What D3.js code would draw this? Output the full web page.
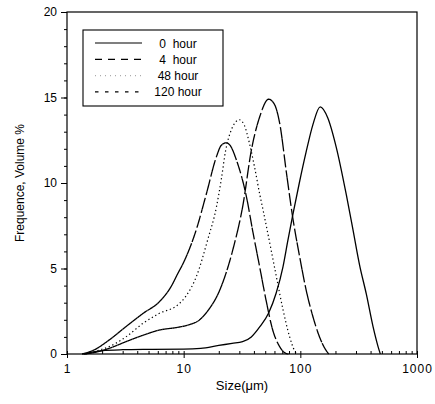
<!DOCTYPE html>
<html>
<head>
<meta charset="utf-8">
<script src="https://cdn.jsdelivr.net/npm/d3@7"></script>
<style>
  body { margin: 0; background: #fff; }
  svg text { font-family: Arial, "Liberation Sans", sans-serif; fill: #000; }
</style>
</head>
<body>
<div id="chart"></div>
<script>
// size (um), volume frequency (%)
const hour0 = [[1.4,0],[1.7,0.13],[2,0.2],[3,0.25],[5,0.27],[10,0.28],[14,0.33],[20,0.5],[26,0.62],[32,0.72],[38,1.0],[45,1.6],[53.5,2.4],[62,3.55],[71,5.1],[78,6.6],[86,8.1],[98,10.0],[112,11.8],[128,13.4],[148,14.45],[172,13.8],[203,12.1],[248,9.3],[282,7.3],[322,5.2],[368,3.5],[420,1.6],[463,0.45],[485,0]];
const hour4 = [[1.35,0],[1.6,0.05],[2.3,0.33],[3.2,0.72],[4.5,1.1],[6.2,1.4],[8.9,1.56],[11,1.7],[13.7,2.0],[16,2.5],[20.4,3.74],[26.4,6.1],[32.2,8.7],[38,11.9],[45,13.9],[53.5,14.9],[60,14.6],[66.5,13.5],[76,10.6],[86,8.0],[98.6,5.7],[112.5,3.7],[128,2.2],[146,1.0],[160,0.4],[175,0]];
const hour48 = [[1.45,0],[1.9,0.23],[2.3,0.43],[3.2,1.0],[4.5,1.8],[6.2,2.38],[8.9,2.87],[10.5,3.4],[12.8,4.5],[16.1,6.7],[19.1,8.6],[21,10.2],[22.9,11.9],[25.6,13.1],[30,13.7],[33,13.4],[36.7,12.3],[40.6,10.9],[45,9.3],[48,8.4],[55,6.4],[62,4.6],[71,2.6],[81,1.0],[90,0.15],[94,0]];
const hour120 = [[1.35,0],[1.7,0.23],[2.3,0.82],[3.2,1.6],[4.5,2.38],[6.2,3.06],[7.8,3.94],[8.9,4.7],[9.9,5.3],[12.8,7.25],[15.7,9.4],[19.1,11.54],[21,12.2],[23.2,12.35],[25,12.2],[28.3,11.35],[34.5,9.2],[39.3,7.1],[44.8,5.1],[51,3.1],[58,1.4],[66.5,0.43],[72,0.12],[79,0]];

const seriesNames = ["0  hour", "4  hour", "48 hour", "120 hour"];
const xMajorTicks = [1, 10, 100, 1000];
const yMajorTicks = [0, 5, 10, 15, 20];

const width = 435, height = 404;
const margin = { left: 67, right: 417, top: 12, bottom: 354 };

const svg = d3.select("#chart").append("svg")
    .attr("width", width)
    .attr("height", height);

const x = d3.scaleLog().domain([1, 1000]).range([margin.left, margin.right]);
const y = d3.scaleLinear().domain([0, 20]).range([margin.bottom, margin.top]);

// minor x ticks (inside)
const xMinor = [];
xMajorTicks.slice(0, 3).forEach(d => { for (let k = 1; k < 10; k++) xMinor.push(d * k); });
xMinor.push(1000);

svg.append("g")
    .attr("transform", `translate(0,${margin.bottom})`)
    .call(d3.axisTop(x).tickValues(xMinor).tickSize(3).tickFormat(""))
    .call(g => g.select(".domain").remove());

svg.append("g")
    .attr("transform", `translate(0,${margin.bottom})`)
    .call(d3.axisBottom(x).tickValues(xMajorTicks).tickSize(4).tickPadding(6).tickFormat(d3.format("d")))
    .call(g => g.select(".domain").remove())
    .call(g => g.selectAll("text").style("font-size", "12px").style("letter-spacing", "1px"));

// y ticks (outside)
svg.append("g")
    .attr("transform", `translate(${margin.left},0)`)
    .call(d3.axisLeft(y).tickValues(d3.range(0, 21)).tickSize(3).tickFormat(""))
    .call(g => g.select(".domain").remove());

svg.append("g")
    .attr("transform", `translate(${margin.left},0)`)
    .call(d3.axisLeft(y).tickValues(yMajorTicks).tickSize(6).tickPadding(4))
    .call(g => g.select(".domain").remove())
    .call(g => g.selectAll("text").style("font-size", "12px"));

// frame
svg.append("rect")
    .attr("x", margin.left).attr("y", margin.top)
    .attr("width", margin.right - margin.left).attr("height", margin.bottom - margin.top)
    .attr("fill", "none").attr("stroke", "#000").attr("stroke-width", 1.2);

// curves
const line = d3.line()
    .x(d => x(d[0]))
    .y(d => y(d[1]))
    .curve(d3.curveMonotoneX);

// old plotters restart the dash pattern on every short plotted segment,
// so flat parts come out solid and steep parts dashed
function drawRestartDash(data, dash, step, w) {
    const tmp = svg.append("path").attr("d", line(data)).attr("fill", "none");
    const node = tmp.node();
    const total = node.getTotalLength();
    const pts = [];
    for (let l = 0; l <= total; l += 0.5) pts.push(node.getPointAtLength(l));
    pts.push(node.getPointAtLength(total));
    tmp.remove();

    const chunks = [];
    let chunk = [pts[0]];
    let boundary = Math.floor((pts[0].x - margin.left) / step) + 1;
    for (let i = 1; i < pts.length; i++) {
        chunk.push(pts[i]);
        if ((pts[i].x - margin.left) / step >= boundary) {
            chunks.push(chunk);
            chunk = [pts[i]];
            boundary = Math.floor((pts[i].x - margin.left) / step) + 1;
        }
    }
    if (chunk.length > 1) chunks.push(chunk);

    const seg = d3.line().x(p => p.x).y(p => p.y);
    svg.append("g").selectAll("path")
        .data(chunks)
        .join("path")
        .attr("d", seg)
        .attr("fill", "none")
        .attr("stroke", "#000")
        .attr("stroke-width", w)
        .attr("stroke-dasharray", dash);
}

svg.append("path")
    .datum(hour0)
    .attr("d", line)
    .attr("fill", "none")
    .attr("stroke", "#000")
    .attr("stroke-width", 1.3);

drawRestartDash(hour4, "13,3", 5, 1.3);

svg.append("path")
    .datum(hour48)
    .attr("d", line)
    .attr("fill", "none")
    .attr("stroke", "#000")
    .attr("stroke-width", 1.2)
    .attr("stroke-dasharray", "1.3,2.7");

drawRestartDash(hour120, "12,3", 5, 1.3);

// legend
const legend = svg.append("g");
legend.append("rect")
    .attr("x", 83).attr("y", 30)
    .attr("width", 140).attr("height", 76)
    .attr("fill", "#fff").attr("stroke", "#000").attr("stroke-width", 1.1);

const legendDash = [null, "7,6", "1,4", "3.5,6.5"];
const legendColor = ["#000", "#000", "#aaa", "#000"];
seriesNames.forEach((name, i) => {
    const ly = 43 + i * 16.3;
    legend.append("line")
        .attr("x1", 95).attr("x2", 142)
        .attr("y1", ly).attr("y2", ly)
        .attr("stroke", legendColor[i])
        .attr("stroke-width", 1.2)
        .attr("stroke-dasharray", legendDash[i]);
    legend.append("text")
        .attr("x", 178).attr("y", ly + 4.5)
        .attr("text-anchor", "middle")
        .style("font-size", "12px")
        .style("white-space", "pre")
        .text(name);
});

// axis titles
svg.append("text")
    .attr("x", (margin.left + margin.right) / 2)
    .attr("y", 390)
    .attr("text-anchor", "middle")
    .style("font-size", "13px")
    .text("Size(\u03bcm)");

svg.append("text")
    .attr("transform", `translate(24,${(margin.top + margin.bottom) / 2}) rotate(-90)`)
    .attr("text-anchor", "middle")
    .style("font-size", "12px")
    .text("Frequence, Volume %");
</script>
</body>
</html>
